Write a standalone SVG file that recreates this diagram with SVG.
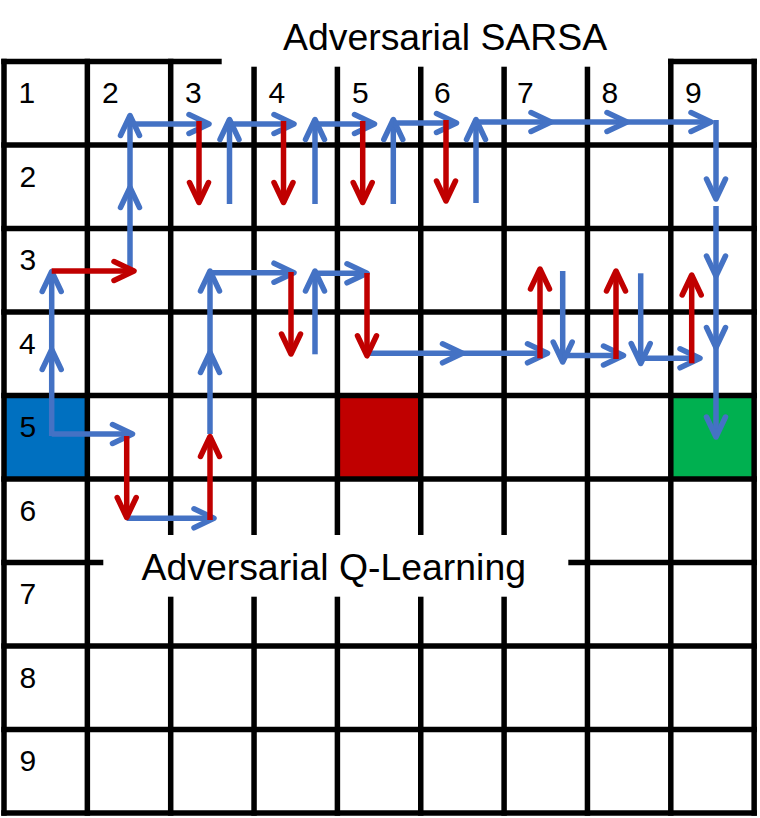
<svg xmlns="http://www.w3.org/2000/svg" width="760" height="818" viewBox="0 0 760 818">
  <style>
    .g { stroke: #000; stroke-width: 5.5; stroke-linecap: square; fill: none; }
    .lbl { font-family: "Liberation Sans", Arial, sans-serif; font-size: 30px; fill: #000; }
    .title { font-family: "Liberation Sans", Arial, sans-serif; font-size: 37.4px; fill: #000; }
    .b { stroke: #4472C4; stroke-width: 5.5; fill: none; stroke-linejoin: round; }
    .r { stroke: #C00000; stroke-width: 5.5; fill: none; stroke-linejoin: round; }
    .hb { stroke: #4472C4; stroke-width: 5.5; fill: none; stroke-linecap: round; stroke-linejoin: round; }
    .hr { stroke: #C00000; stroke-width: 5.5; fill: none; stroke-linecap: round; stroke-linejoin: round; }
  </style>
  <defs>
    <marker id="ab" markerUnits="userSpaceOnUse" orient="auto" overflow="visible" markerWidth="40" markerHeight="40" refX="0" refY="0">
      <path d="M-20,-9.5 L0,0 L-20,9.5" class="hb"/>
    </marker>
    <marker id="ar" markerUnits="userSpaceOnUse" orient="auto" overflow="visible" markerWidth="40" markerHeight="40" refX="0" refY="0">
      <path d="M-20,-9.5 L0,0 L-20,9.5" class="hr"/>
    </marker>
  </defs>

  <rect x="0" y="0" width="760" height="818" fill="#fff"/>

  <g id="start-cell"><rect x="4" y="395.5" width="83.35" height="83.5" fill="#0070C0"/></g>
  <g id="adversary-cell"><rect x="337.4" y="395.5" width="83.35" height="83.5" fill="#C00000"/></g>
  <g id="goal-cell"><rect x="670.8" y="395.5" width="83.35" height="83.5" fill="#00B050"/></g>

  <g id="grid">
    <line class="g" x1="4" y1="61.5" x2="754.15" y2="61.5"/>
    <line class="g" x1="4" y1="145" x2="754.15" y2="145"/>
    <line class="g" x1="4" y1="228.5" x2="754.15" y2="228.5"/>
    <line class="g" x1="4" y1="312" x2="754.15" y2="312"/>
    <line class="g" x1="4" y1="395.5" x2="754.15" y2="395.5"/>
    <line class="g" x1="4" y1="479" x2="754.15" y2="479"/>
    <line class="g" x1="4" y1="562.5" x2="754.15" y2="562.5"/>
    <line class="g" x1="4" y1="646" x2="754.15" y2="646"/>
    <line class="g" x1="4" y1="729.5" x2="754.15" y2="729.5"/>
    <line class="g" x1="4" y1="813" x2="754.15" y2="813"/>
    <line class="g" x1="4" y1="61.5" x2="4" y2="813"/>
    <line class="g" x1="87.35" y1="61.5" x2="87.35" y2="813"/>
    <line class="g" x1="170.7" y1="61.5" x2="170.7" y2="813"/>
    <line class="g" x1="254.05" y1="61.5" x2="254.05" y2="813"/>
    <line class="g" x1="337.4" y1="61.5" x2="337.4" y2="813"/>
    <line class="g" x1="420.75" y1="61.5" x2="420.75" y2="813"/>
    <line class="g" x1="504.1" y1="61.5" x2="504.1" y2="813"/>
    <line class="g" x1="587.45" y1="61.5" x2="587.45" y2="813"/>
    <line class="g" x1="670.8" y1="61.5" x2="670.8" y2="813"/>
    <line class="g" x1="754.15" y1="61.5" x2="754.15" y2="813"/>
    <rect x="221.7" y="0" width="446.3" height="66.7" fill="#fff"/>
    <rect x="103.3" y="535" width="465" height="61.7" fill="#fff"/>
  </g>

  <g id="titles">
    <text class="title" x="283" y="50">Adversarial SARSA</text>
    <text class="title" x="141.5" y="580">Adversarial Q-Learning</text>
  </g>

  <g id="labels" class="lbl">
    <text x="18.5" y="103.3">1</text>
    <text x="102" y="103.3">2</text>
    <text x="185" y="103.3">3</text>
    <text x="268.5" y="103.3">4</text>
    <text x="352" y="103.3">5</text>
    <text x="434" y="103.3">6</text>
    <text x="517" y="103.3">7</text>
    <text x="601.5" y="103.3">8</text>
    <text x="685" y="103.3">9</text>
    <text x="19.5" y="186.8">2</text>
    <text x="19.5" y="270.3">3</text>
    <text x="19" y="353.8">4</text>
    <text x="19.5" y="437.3">5</text>
    <text x="19.5" y="520.8">6</text>
    <text x="19.5" y="604.3">7</text>
    <text x="19.5" y="687.8">8</text>
    <text x="19.5" y="771.3">9</text>
  </g>

  <g id="connectors">
    <!-- blue moves -->
    <path class="b" d="M51.7,436 L51.7,349.5 L51.7,271.5" marker-mid="url(#ab)" marker-end="url(#ab)"/>
    <path class="b" d="M130,268 L130,187.5 L130,115.5" marker-mid="url(#ab)" marker-end="url(#ab)"/>
    <path class="b" d="M130,124 L209,124" marker-end="url(#ab)"/>
    <path class="b" d="M229.5,204 L229.5,119.5" marker-end="url(#ab)"/>
    <path class="b" d="M229.5,124 L294,124" marker-end="url(#ab)"/>
    <path class="b" d="M315,204 L315,119.5" marker-end="url(#ab)"/>
    <path class="b" d="M315,124 L374.5,124" marker-end="url(#ab)"/>
    <path class="b" d="M393.3,204 L393.3,119.5" marker-end="url(#ab)"/>
    <path class="b" d="M393.3,123 L456.5,123" marker-end="url(#ab)"/>
    <path class="b" d="M476,203 L476,119.5" marker-end="url(#ab)"/>
    <path class="b" d="M476,122 L551,122 L627,122 L711,122" marker-mid="url(#ab)" marker-end="url(#ab)"/>
    <path class="b" d="M716,120 L716,199" marker-end="url(#ab)"/>
    <path class="b" d="M716,206 L716,276 L716,347.5 L716,437" marker-mid="url(#ab)" marker-end="url(#ab)"/>

    <path class="b" d="M51.7,434 L132.5,434" marker-end="url(#ab)"/>
    <path class="b" d="M126.7,518.3 L214,518.3" marker-end="url(#ab)"/>
    <path class="b" d="M210,434 L210,352.5 L210,271" marker-mid="url(#ab)" marker-end="url(#ab)"/>
    <path class="b" d="M210,272.7 L294,272.7" marker-end="url(#ab)"/>
    <path class="b" d="M315,354.3 L315,271" marker-end="url(#ab)"/>
    <path class="b" d="M315,273.3 L367,273.3" marker-end="url(#ab)"/>
    <path class="b" d="M367,353.3 L462.5,353.3 L547.5,353.3" marker-mid="url(#ab)" marker-end="url(#ab)"/>
    <path class="b" d="M562.7,271 L562.7,362" marker-end="url(#ab)"/>
    <path class="b" d="M562.7,355.5 L623.5,355.5" marker-end="url(#ab)"/>
    <path class="b" d="M640.7,273.3 L640.7,363.5" marker-end="url(#ab)"/>
    <path class="b" d="M640.7,358.3 L700,358.3" marker-end="url(#ab)"/>

    <!-- red adversarial moves -->
    <path class="r" d="M51.7,271 L134,271" marker-end="url(#ar)"/>
    <path class="r" d="M199,121 L199,202.5" marker-end="url(#ar)"/>
    <path class="r" d="M283.5,121 L283.5,202.5" marker-end="url(#ar)"/>
    <path class="r" d="M362.7,121 L362.7,202.5" marker-end="url(#ar)"/>
    <path class="r" d="M446,120 L446,201" marker-end="url(#ar)"/>

    <path class="r" d="M126.7,436 L126.7,517.5" marker-end="url(#ar)"/>
    <path class="r" d="M210,520 L210,436.5" marker-end="url(#ar)"/>
    <path class="r" d="M291,272 L291,354" marker-end="url(#ar)"/>
    <path class="r" d="M367,273 L367,355.8" marker-end="url(#ar)"/>
    <path class="r" d="M540,358.3 L540,269" marker-end="url(#ar)"/>
    <path class="r" d="M616,359 L616,271" marker-end="url(#ar)"/>
    <path class="r" d="M691.7,363.3 L691.7,275" marker-end="url(#ar)"/>
  </g>
</svg>
